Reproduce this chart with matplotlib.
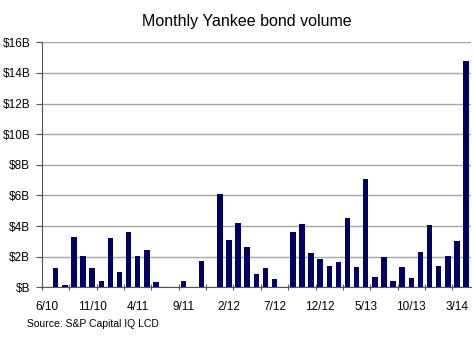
import matplotlib
matplotlib.use("Agg")
import matplotlib.pyplot as plt
from matplotlib.ticker import FuncFormatter, FixedLocator

plt.rcParams["font.family"] = ["Liberation Sans", "DejaVu Sans"]

# monthly volume in $B, 6/10 .. 4/14
volumes = [0, 1.25, 0.15, 3.3, 2.02, 1.28, 0.41, 3.2, 1.02, 3.63, 2.07, 2.42,
           0.33, 0, 0, 0.39, 0, 1.72, 0, 6.09, 3.07, 4.22, 2.63, 0.85,
           1.24, 0.52, 0, 3.59, 4.11, 2.24, 1.85, 1.36, 1.63, 4.5, 1.35, 7.09,
           0.69, 1.96, 0.41, 1.35, 0.58, 2.28, 4.05, 1.41, 2.04, 3.02, 14.78]
tick_labels = ["6/10", "11/10", "4/11", "9/11", "2/12", "7/12",
               "12/12", "5/13", "10/13", "3/14"]
label_every = 5
mark_every = 3

fig = plt.figure(figsize=(4.74, 3.39), dpi=100)
ax = fig.add_axes([0.0886, 0.1525, 0.9042, 0.7227])

x = list(range(len(volumes)))
ax.bar(x, volumes, width=0.6, color="#000066", zorder=3)

ax.set_xlim(-0.5, len(volumes) - 0.5)
ax.set_ylim(0, 16)
ax.set_yticks(range(0, 17, 2))
ax.yaxis.set_major_formatter(FuncFormatter(lambda v, p: f"${int(v)}B" if v else "$B"))
ax.grid(axis="y", color="#a6a6a6", linewidth=1, zorder=0)

ax.set_xticks([i * label_every for i in range(len(tick_labels))])
ax.set_xticklabels(tick_labels)
ax.xaxis.set_minor_locator(FixedLocator([k - 0.5 for k in range(0, len(volumes) + 1, mark_every)]))
ax.tick_params(axis="x", which="major", length=0, pad=10, labelsize=8.5)
ax.tick_params(axis="x", which="minor", direction="inout", length=5, width=0.8, color="#555555")
ax.tick_params(axis="y", length=4.5, width=0.8, color="#555555", pad=4, labelsize=8.5)

for s in ["top", "right"]:
    ax.spines[s].set_visible(False)
ax.spines["left"].set_color("#555555")
ax.spines["bottom"].set_color("#555555")
ax.spines["left"].set_linewidth(0.8)
ax.spines["bottom"].set_linewidth(0.8)

fig.text(0.52, 0.938, "Monthly Yankee bond volume", ha="center", va="center", fontsize=11.5)
fig.text(0.057, 0.045, "Source: S&P Capital IQ LCD", ha="left", va="center", fontsize=7.5)

fig.savefig("out.png", dpi=100)
